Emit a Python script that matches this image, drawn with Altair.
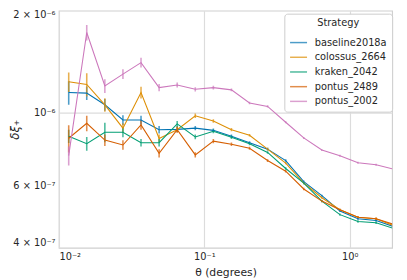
import altair as alt
import pandas as pd

# angular bins (degrees)
theta = [0.01167, 0.01553, 0.02069, 0.02755, 0.03669, 0.04887, 0.06508, 0.08667,
         0.1154, 0.1537, 0.2047, 0.2726, 0.3630, 0.4833, 0.6437, 0.8570,
         1.141, 1.520, 2.024]

strategies = ["baseline2018a", "colossus_2664", "kraken_2042", "pontus_2489", "pontus_2002"]
colors = ["#0173b2", "#de8f05", "#029e73", "#d55e00", "#cc78bc"]

# values in units of 1e-6
baseline2018a = [1.155, 1.150, 1.059, 0.951, 0.951, 0.888, 0.890, 0.898, 0.884, 0.848,
                 0.810, 0.774, 0.714, 0.615, 0.557, 0.500, 0.473, 0.467, 0.447]
colossus_2664 = [1.246, 1.223, 1.059, 0.898, 1.155, 0.835, 0.888, 0.980, 0.944, 0.888,
                 0.854, 0.774, 0.701, 0.609, 0.549, 0.504, 0.478, 0.473, 0.450]
kraken_2042 = [0.848, 0.804, 0.872, 0.872, 0.810, 0.810, 0.925, 0.844, 0.878, 0.842,
               0.804, 0.756, 0.675, 0.609, 0.536, 0.487, 0.464, 0.460, 0.441]
pontus_2489 = [0.836, 0.929, 0.825, 0.797, 0.919, 0.751, 0.888, 0.743, 0.819, 0.801,
               0.779, 0.714, 0.662, 0.584, 0.536, 0.504, 0.478, 0.473, 0.454]
pontus_2002 = [0.739, 1.766, 1.210, 1.316, 1.427, 1.196, 1.218, 1.182, 1.196, 1.177,
               1.073, 1.047, 0.936, 0.838, 0.769, 0.739, 0.703, 0.693, 0.671]

err_baseline2018a = [0.095, 0.055, 0.044, 0.033, 0.030, 0.024, 0.018, 0.014, 0.012, 0.010,
                     0.008, 0.007, 0.006, 0.005, 0.004, 0.004, 0.004, 0.004, 0.004]
err_colossus_2664 = [0.086, 0.100, 0.051, 0.031, 0.048, 0.024, 0.018, 0.016, 0.012, 0.010,
                     0.008, 0.007, 0.006, 0.005, 0.004, 0.004, 0.004, 0.004, 0.004]
err_kraken_2042 = [0.040, 0.039, 0.060, 0.030, 0.022, 0.022, 0.020, 0.014, 0.012, 0.010,
                   0.008, 0.007, 0.006, 0.005, 0.004, 0.004, 0.004, 0.004, 0.004]
err_pontus_2489 = [0.080, 0.051, 0.034, 0.027, 0.032, 0.022, 0.018, 0.014, 0.012, 0.010,
                   0.008, 0.007, 0.006, 0.005, 0.004, 0.004, 0.004, 0.004, 0.004]
err_pontus_2002 = [0.050, 0.097, 0.058, 0.045, 0.049, 0.030, 0.022, 0.018, 0.015, 0.012,
                   0.010, 0.008, 0.007, 0.006, 0.005, 0.005, 0.005, 0.005, 0.005]

series = [baseline2018a, colossus_2664, kraken_2042, pontus_2489, pontus_2002]
errors = [err_baseline2018a, err_colossus_2664, err_kraken_2042, err_pontus_2489, err_pontus_2002]

rows = []
for s, vals, errs in zip(strategies, series, errors):
    for t, v, e in zip(theta, vals, errs):
        rows.append({"theta": t, "xi": v * 1e-6, "lo": (v - e) * 1e-6,
                     "hi": (v + e) * 1e-6, "Strategy": s})
df = pd.DataFrame(rows)

FONT = "DejaVu Sans"

x = alt.X("theta:Q",
          scale=alt.Scale(type="log", domain=[0.01, 1.96], nice=False),
          axis=alt.Axis(values=[0.01, 0.1, 1],
                        labelExpr="datum.value < 0.05 ? '10⁻²' : datum.value < 0.5 ? '10⁻¹' : '10⁰'",
                        title="θ (degrees)", titlePadding=5))
y = alt.Y("xi:Q",
          scale=alt.Scale(type="log", domain=[3.85e-7, 2.06e-6], nice=False),
          axis=alt.Axis(values=[4e-7, 6e-7, 1e-6, 2e-6],
                        labelExpr="datum.value < 5e-7 ? '4 × 10⁻⁷' : datum.value < 8e-7 ? '6 × 10⁻⁷' : datum.value < 1.5e-6 ? '10⁻⁶' : '2 × 10⁻⁶'",
                        title="δξ₊", titleFontStyle="italic", titleX=-45, titleY=121,
                        titleFontSize=12,
                        titleAngle=270, titleAlign="center", titleBaseline="middle",
                        gridOpacity={"condition": {"test": "datum.value > 9e-7 && datum.value < 1.1e-6", "value": 1}, "value": 0}))

color = alt.Color("Strategy:N",
                  scale=alt.Scale(domain=strategies, range=colors),
                  sort=strategies,
                  legend=alt.Legend(orient="none", legendX=230, legendY=3,
                                    title="Strategy", titleAnchor="middle",
                                    titleFontWeight="normal", titleFontSize=10,
                                    labelFontSize=10, symbolType="stroke",
                                    symbolSize=300, symbolStrokeWidth=1.5,
                                    fillColor="white", strokeColor="#cccccc",
                                    padding=5, cornerRadius=3, rowPadding=0,
                                    labelOffset=7))

lines = alt.Chart(df).mark_line(strokeWidth=1.1, clip=True).encode(x=x, y=y, color=color)
bars = alt.Chart(df).mark_rule(strokeWidth=1.6, opacity=0.7, clip=True).encode(
    x="theta:Q", y="lo:Q", y2="hi:Q", color=color)

chart = alt.layer(bars, lines).properties(
    width=340, height=242, autosize="none",
    padding={"left": 52, "top": 0, "right": 7, "bottom": 30}
).configure_view(stroke="#d0d0d0", strokeWidth=1.2).configure_axis(
    domain=False, ticks=False, gridColor="#dcdcdc", gridWidth=1.2,
    labelFont=FONT, titleFont=FONT, labelFontSize=10, titleFontSize=11,
    labelColor="#262626", titleColor="#262626", titleFontWeight="normal",
    labelPadding=4
).configure_legend(labelFont=FONT, titleFont=FONT, labelColor="#262626", titleColor="#262626")

chart.save("out.html", embed_options={"renderer": "svg", "actions": False})
